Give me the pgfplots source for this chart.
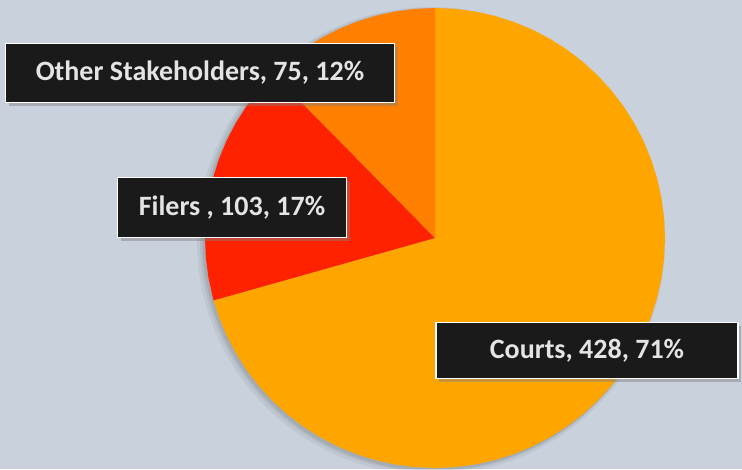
\documentclass[border=0pt]{standalone}
\usepackage{pgfplots}
\pgfplotsset{compat=1.18}
\usepackage{fontspec}
\setmainfont{Carlito}
\usetikzlibrary{shadows}
\definecolor{bg}{HTML}{C9D1DC}
\definecolor{courts}{HTML}{FFA500}
\definecolor{filers}{HTML}{FF2200}
\definecolor{other}{HTML}{FF7F00}
\definecolor{boxfill}{HTML}{1A1A1A}
\definecolor{txt}{HTML}{E4E4E4}
\tikzset{lbl/.style={draw=white, line width=1.3pt, fill=boxfill, text=txt,
    font=\fontsize{28}{32}\selectfont\bfseries, inner sep=0pt,
    drop shadow={shadow xshift=3pt, shadow yshift=-4pt, opacity=0.45}}}
\begin{document}
\begin{tikzpicture}
\begin{axis}[
    scale only axis,
    width=742pt, height=469pt,
    xmin=-435, xmax=307,
    ymin=-231, ymax=238,
    axis line style={draw=none},
    ticks=none,
    axis background/.style={fill=bg},
]
% soft shadow of the pie
\fill[black, opacity=0.05] (axis cs:-4,-3) circle[radius=234pt];
\fill[black, opacity=0.06] (axis cs:-3,-2) circle[radius=232pt];
\fill[black, opacity=0.08] (axis cs:-2,-2) circle[radius=230.5pt];
% Courts 428 (254.26 deg), Filers 103 (61.19 deg), Other 75 (44.55 deg); total 606
\addplot[fill=courts, draw=none, data cs=polar] coordinates {
(0,0) (90,230) (85,230) (80,230) (75,230) (70,230) (65,230) (60,230) (55,230)
(50,230) (45,230) (40,230) (35,230) (30,230) (25,230) (20,230) (15,230) (10,230)
(5,230) (0,230) (-5,230) (-10,230) (-15,230) (-20,230) (-25,230) (-30,230)
(-35,230) (-40,230) (-45,230) (-50,230) (-55,230) (-60,230) (-65,230) (-70,230)
(-75,230) (-80,230) (-85,230) (-90,230) (-95,230) (-100,230) (-105,230)
(-110,230) (-115,230) (-120,230) (-125,230) (-130,230) (-135,230) (-140,230)
(-145,230) (-150,230) (-155,230) (-160,230) (-164.26,230)
};
\addplot[fill=filers, draw=none, data cs=polar] coordinates {
(0,0) (195.74,230) (195,230) (190,230) (185,230) (180,230) (175,230) (170,230)
(165,230) (160,230) (155,230) (150,230) (145,230) (140,230) (135,230) (134.55,230)
};
\addplot[fill=other, draw=none, data cs=polar] coordinates {
(0,0) (134.55,230) (130,230) (125,230) (120,230) (115,230) (110,230) (105,230)
(100,230) (95,230) (90,230)
};
\node[lbl, minimum width=389pt, minimum height=59pt] at (axis cs:-235,165) {Other Stakeholders, 75, 12\%};
\node[lbl, minimum width=229pt, minimum height=60pt] at (axis cs:-203,30.5) {Filers , 103, 17\%};
\node[lbl, minimum width=302pt, minimum height=56pt] at (axis cs:152,-112.5) {Courts, 428, 71\%};
\end{axis}
\end{tikzpicture}
\end{document}
